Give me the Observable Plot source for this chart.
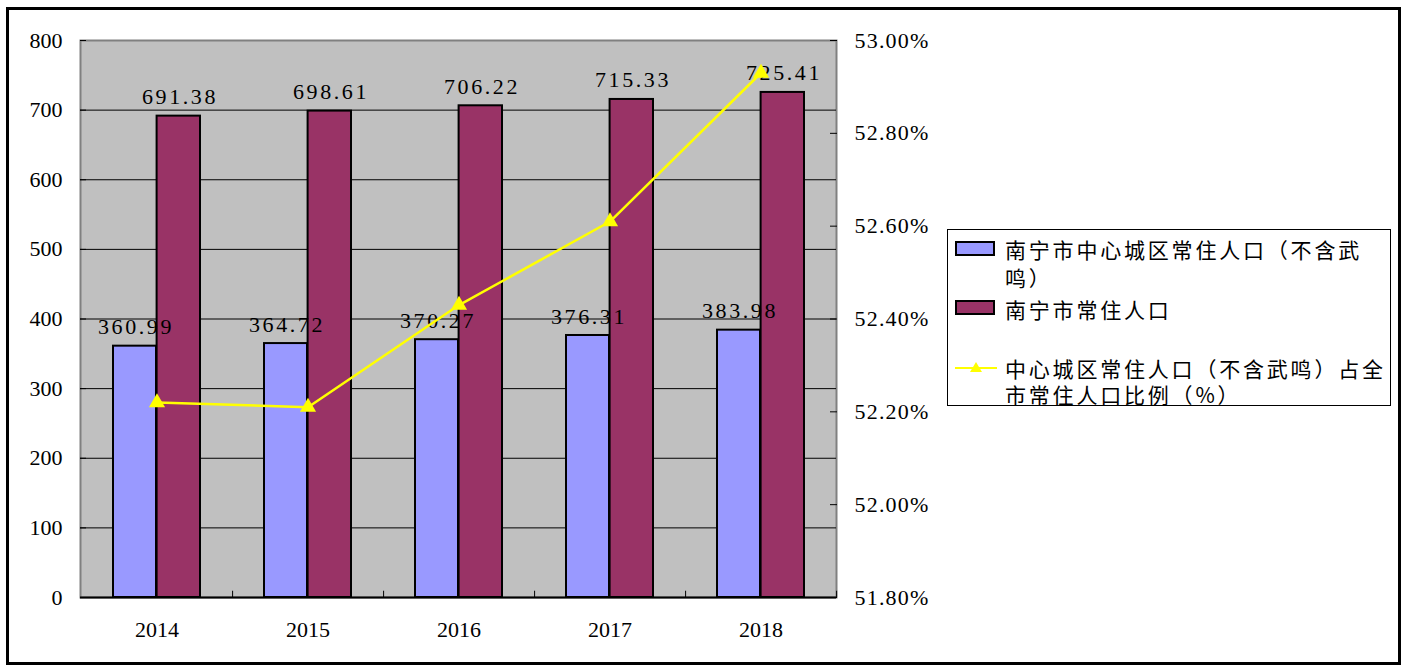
<!DOCTYPE html>
<html><head><meta charset="utf-8">
<script src="https://cdn.jsdelivr.net/npm/d3@7"></script>
<script src="https://cdn.jsdelivr.net/npm/@observablehq/plot@0.6"></script>
<style>
body{margin:0;background:#fff;}
#wrap{position:relative;width:1407px;height:670px;overflow:hidden;}
#chart{position:absolute;left:0;top:0;}
#border{position:absolute;left:6px;top:7px;width:1389px;height:652px;border:3px solid #000;pointer-events:none;}
#legend{position:absolute;left:947px;top:229px;width:442px;height:175px;border:1px solid #000;background:#fff;}
.sw{position:absolute;left:7px;width:36px;height:11px;border:2px solid #000;}
.lt{position:absolute;left:57px;font-family:"Noto Sans CJK SC",sans-serif;font-size:21px;letter-spacing:2.8px;color:#000;white-space:nowrap;line-height:26px;}
</style></head>
<body><div id="wrap"><div id="chart"></div><div id="border"></div><div id="legend"></div></div>
<script>
const years = ["2014", "2015", "2016", "2017", "2018"];
const central = [360.99, 364.72, 370.27, 376.31, 383.98];
const total = [691.38, 698.61, 706.22, 715.33, 725.41];
const share = [52.22, 52.21, 52.43, 52.61, 52.93];
const leftTicks = [0, 100, 200, 300, 400, 500, 600, 700, 800];
const rightTicks = [51.8, 52.0, 52.2, 52.4, 52.6, 52.8, 53.0];
const seriesNames = [["南宁市中心城区常住人口（不含武", "鸣）"], ["南宁市常住人口"], ["中心城区常住人口（不含武鸣）占全", "市常住人口比例（%）"]];
const colors = ["#9999FF", "#993366", "#FFFF00"];

const rMin = 51.8, rMax = 53.0, lMax = 800;
const toLeft = p => (p - rMin) / (rMax - rMin) * lMax;
const data = years.map((year, i) => ({year, central: central[i], total: total[i], share: share[i]}));
const font = "Liberation Serif";

const chart = Plot.plot({
  width: 1407, height: 670,
  marginLeft: 80, marginRight: 571, marginTop: 40, marginBottom: 73,
  style: {fontFamily: font, fontSize: "22px", background: "transparent", color: "#000"},
  x: {type: "band", domain: years, padding: 0, label: null},
  y: {domain: [0, lMax], label: null},
  marks: [
    Plot.frame({fill: "#C0C0C0", stroke: "#808080", strokeWidth: 2}),
    Plot.ruleY(leftTicks.slice(1, -1), {stroke: "#000", strokeWidth: 1}),
    Plot.ruleY([0], {stroke: "#000", strokeWidth: 2}),
    Plot.ruleX(years, {x: d => d, dx: 75.6, y1: 0, y2: 9, stroke: "#000", strokeWidth: 1}),
    Plot.barY(data, {x: "year", y: "central", fill: colors[0], stroke: "#000", strokeWidth: 2, insetLeft: 32, insetRight: 76}),
    Plot.barY(data, {x: "year", y: "total", fill: colors[1], stroke: "#000", strokeWidth: 2, insetLeft: 75.6, insetRight: 32}),
    Plot.text(data, {x: "year", y: "central", text: d => d.central.toFixed(2), dx: -21, dy: -19, fontSize: 22, fontFamily: font, fill: "#000"}),
    Plot.text(data, {x: "year", y: "total", text: d => d.total.toFixed(2), dx: 23, dy: -19, fontSize: 22, fontFamily: font, fill: "#000"}),
    Plot.line(data, {x: "year", y: d => toLeft(d.share), stroke: colors[2], strokeWidth: 2.5}),
    Plot.dot(data, {x: "year", y: d => toLeft(d.share), symbol: "triangle", fill: colors[2], r: 6}),
    Plot.axisY(leftTicks, {anchor: "left", tickSize: -6, tickPadding: 24, fontSize: 22, fontFamily: font, label: null}),
    Plot.axisY(rightTicks.map(toLeft), {anchor: "right", tickSize: -7, tickPadding: 25, fontSize: 22, fontFamily: font, label: null,
      tickFormat: v => (rMin + v / lMax * (rMax - rMin)).toFixed(2) + "%"}),
    Plot.axisX({tickSize: 0, tickPadding: 24, fontSize: 22, fontFamily: font, label: null})
  ]
});
document.getElementById("chart").appendChild(chart);
// value labels: wider spacing like the reference's SimSun digits
d3.select(chart).selectAll('g[aria-label="text"] text').style("letter-spacing", "2.6px");
d3.select(chart).selectAll('g[aria-label="y-axis tick label"] text')
  .filter(function() { return this.textContent.includes("%"); })
  .style("letter-spacing", "1.2px");

const lg = document.getElementById("legend");
const line = (txt, top) => `<div class="lt" style="top:${top}px">${txt}</div>`;
lg.innerHTML = `
  <div class="sw" style="top:11px;background:${colors[0]}"></div>
  ${line(seriesNames[0][0], 6)}${line(seriesNames[0][1], 34)}
  <div class="sw" style="top:70px;background:${colors[1]}"></div>
  ${line(seriesNames[1][0], 66)}
  <svg style="position:absolute;left:7px;top:130px" width="44" height="16">
    <line x1="0" y1="8" x2="42" y2="8" stroke="${colors[2]}" stroke-width="2"/>
    <path d="M21,2 L27,12 L15,12 Z" fill="${colors[2]}"/>
  </svg>
  ${line(seriesNames[2][0], 125)}${line(seriesNames[2][1], 151)}
`;
</script>
</body></html>
